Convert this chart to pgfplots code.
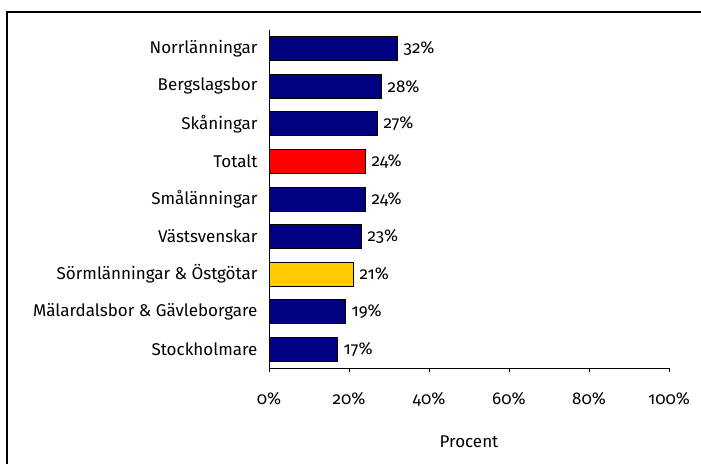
\documentclass[border=0pt]{standalone}
\usepackage{pgfplots}
\pgfplotsset{compat=1.18}
\usepackage{fontspec}
\setmainfont[Numbers=OldStyle]{Fira Sans}
\definecolor{navy}{RGB}{0,0,128}
\definecolor{gul}{RGB}{255,204,0}
\begin{document}
\begin{tikzpicture}[x=1pt,y=1pt]
\useasboundingbox (0,0) rectangle (701,464);
\draw[line width=1.8pt] (7,0) -- (7,452) -- (701,452);
\begin{axis}[
  at={(269pt,96pt)}, anchor=south west,
  scale only axis, width=400pt, height=338pt,
  xbar, bar width=24pt,
  xmin=0, xmax=100, ymin=-0.5, ymax=8.5,
  axis x line*=bottom, axis y line*=left,
  axis line style={black, line width=0.8pt},
  xtick={0,20,40,60,80,100},
  xticklabel={\pgfmathprintnumber{\tick}\%},
  /pgf/number format/assume math mode=true,
  ytick={0,...,8},
  yticklabels={Stockholmare,Mälardalsbor \& Gävleborgare,Sörmlänningar \& Östgötar,Västsvenskar,Smålänningar,Totalt,Skåningar,Bergslagsbor,Norrlänningar},
  minor ytick={-0.5,0.5,...,8.5},
  tick align=outside,
  major tick length=4pt, minor tick length=4pt,
  ytick style={draw=none},
  minor tick style={draw=black, line width=0.8pt},
  xtick style={black, line width=0.8pt},
  tick label style={font=\fontsize{17}{20}\selectfont},
  xticklabel style={yshift=-17pt},
  yticklabel style={xshift=-4pt},
  xlabel={Procent},
  xlabel style={font=\fontsize{17}{20}\selectfont, yshift=-22pt},
  nodes near coords={\fontsize{17}{20}\selectfont\pgfmathprintnumber{\pgfplotspointmeta}\%},
  nodes near coords style={black, xshift=3pt},
  every axis plot/.append style={bar shift=0pt, draw=black, line width=0.8pt},
  clip=false,
]
\addplot[fill=navy] coordinates {(17,0) (19,1) (23,3) (24,4) (27,6) (28,7) (32,8)};
\addplot[fill=gul] coordinates {(21,2)};
\addplot[fill=red] coordinates {(24,5)};
\end{axis}
\end{tikzpicture}
\end{document}
